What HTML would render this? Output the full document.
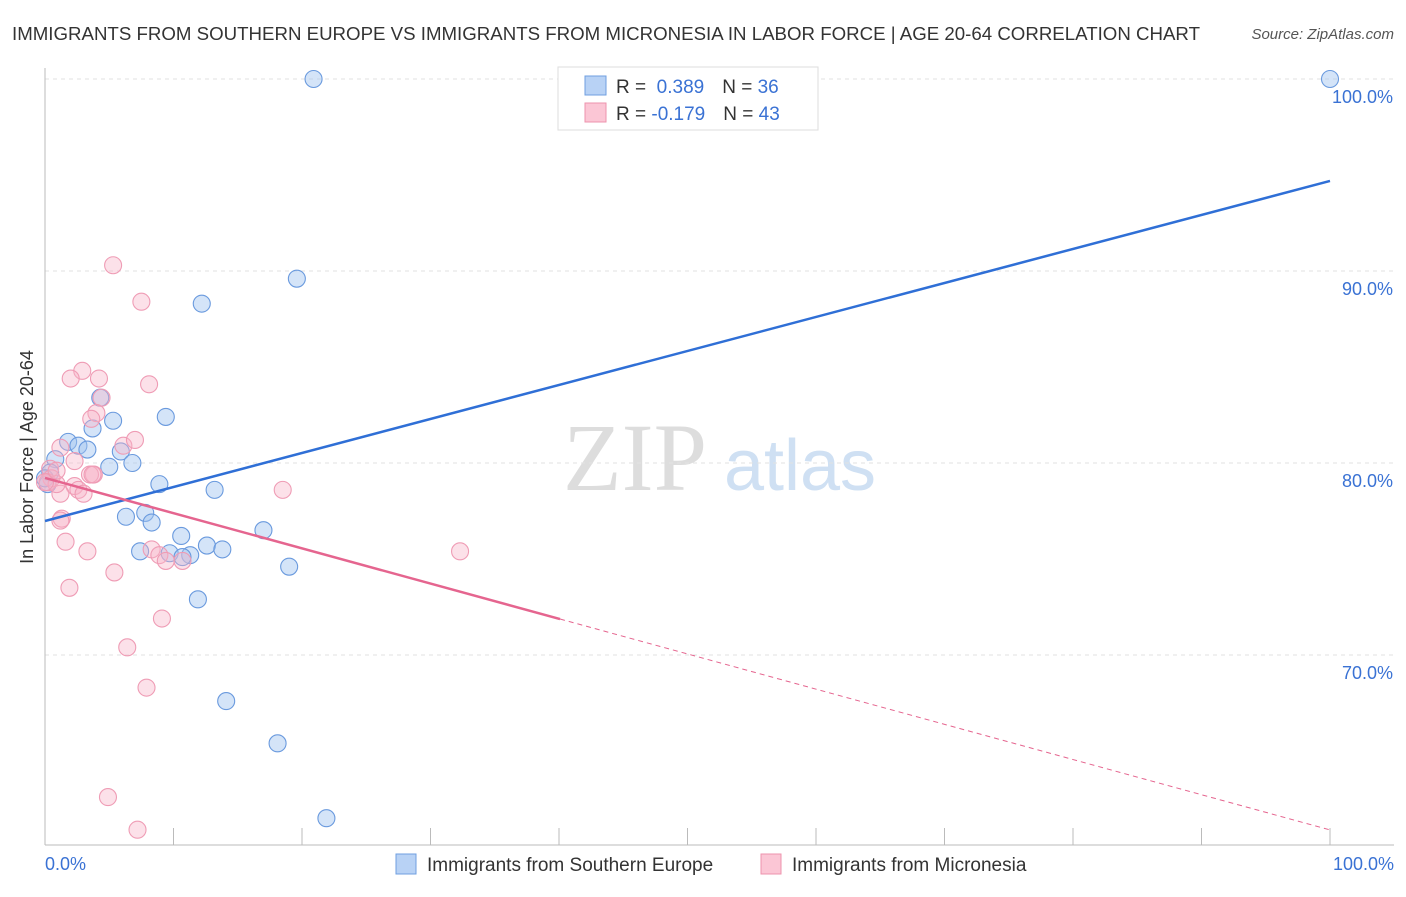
<!DOCTYPE html>
<html><head><meta charset="utf-8"><style>
body{margin:0;background:#fff;font-family:"Liberation Sans",sans-serif;}
</style></head><body>
<svg id="chart" width="1406" height="892" xmlns="http://www.w3.org/2000/svg">
<text x="12" y="40" font-size="18" fill="#333" textLength="1188" lengthAdjust="spacingAndGlyphs">IMMIGRANTS FROM SOUTHERN EUROPE VS IMMIGRANTS FROM MICRONESIA IN LABOR FORCE | AGE 20-64 CORRELATION CHART</text>
<text x="1394" y="39" font-size="15" fill="#555" font-style="italic" text-anchor="end">Source: ZipAtlas.com</text>
<g><text x="635" y="490" font-size="96" font-family="Liberation Serif" fill="#ddd" text-anchor="middle">ZIP</text><text x="800" y="490" font-size="72" fill="#cfe0f3" text-anchor="middle">atlas</text></g>
<g id="grid"></g>
<line x1="45" y1="68" x2="45" y2="845" stroke="#bbb"/>
<line x1="45" y1="845" x2="1394" y2="845" stroke="#bbb"/>
<text transform="translate(33,457) rotate(-90)" font-size="18" fill="#333" text-anchor="middle">In Labor Force | Age 20-64</text>
<text x="45" y="870" font-size="18" fill="#3a72d4">0.0%</text>
<text x="1394" y="870" font-size="18" fill="#3a72d4" text-anchor="end">100.0%</text>
<g id="points"></g>
<g id="lines"></g>
<g>
<rect x="558" y="67" width="260" height="63" fill="#fff" stroke="#ddd"/>
<rect x="585" y="76" width="21" height="19" fill="#b8d2f5" stroke="#6f9fe0"/>
<rect x="585" y="103" width="21" height="19" fill="#fbc6d5" stroke="#ee93ad"/>
<text x="616" y="93" font-size="19" fill="#333">R = <tspan fill="#3a72d4">&#160;0.389</tspan><tspan dx="18">N = </tspan><tspan fill="#3a72d4">36</tspan></text>
<text x="616" y="120" font-size="19" fill="#333">R = <tspan fill="#3a72d4">-0.179</tspan><tspan dx="18">N = </tspan><tspan fill="#3a72d4">43</tspan></text>
</g>
<g>
<rect x="396" y="854" width="20" height="20" fill="#b8d2f5" stroke="#6f9fe0"/>
<text x="427" y="871" font-size="19" fill="#333">Immigrants from Southern Europe</text>
<rect x="761" y="854" width="20" height="20" fill="#fbc6d5" stroke="#ee93ad"/>
<text x="792" y="871" font-size="19" fill="#333">Immigrants from Micronesia</text>
</g>
</svg>
<script>
const yTicks=[100,90,80,70];
const xTicks=[0,10,20,30,40,50,60,70,80,90,100];
const blueX=[20.9,100,19.6,12.2,4.3,9.4,5.3,3.7,1.8,2.6,3.3,5.9,0.8,5.0,6.8,0.4,8.9,13.2,0.2,6.3,7.8,8.3,17.0,10.6,12.6,13.8,7.4,9.7,11.3,10.7,19.0,11.9,14.1,18.1,21.9,0];
const blueY=[100,100,89.6,88.3,83.4,82.4,82.2,81.8,81.1,80.9,80.7,80.6,80.2,79.8,80.0,79.5,78.9,78.6,78.9,77.2,77.4,76.9,76.5,76.2,75.7,75.5,75.4,75.3,75.2,75.1,74.6,72.9,67.6,65.4,61.5,79.2];
const pinkX=[5.3,7.5,2.9,2.0,4.2,8.1,4.4,4.0,3.6,1.2,6.1,7.0,2.3,0.4,3.8,0.5,0.2,2.3,2.6,3.0,1.2,18.5,1.3,1.6,3.3,8.3,8.9,10.7,9.4,32.3,5.4,1.9,9.1,6.4,7.9,4.9,7.2,3.5,0.9,0,1.2,3.7,0.9];
const pinkY=[90.3,88.4,84.8,84.4,84.4,84.1,83.4,82.6,82.3,80.8,80.9,81.2,80.1,79.7,79.4,79.2,79.0,78.8,78.6,78.4,78.4,78.6,77.1,75.9,75.4,75.5,75.2,74.9,74.9,75.4,74.3,73.5,71.9,70.4,68.3,62.6,60.9,79.4,78.9,79.0,77.0,79.4,79.6];
const blueLine=[0,76.98,100,94.69];
const pinkLine=[0,79.22,100,60.89];
const pinkSolidEnd=40.08;
const NS='http://www.w3.org/2000/svg';
const xs=v=>45+v*12.85, ys=v=>79+(100-v)*19.2;
function mk(tag,attrs,parent){const e=document.createElementNS(NS,tag);for(const k in attrs)e.setAttribute(k,attrs[k]);document.getElementById(parent).appendChild(e);return e;}
yTicks.forEach(t=>{
 const l=mk('line',{x1:45,x2:1394,y1:ys(t),y2:ys(t),stroke:'#e2e2e2','stroke-dasharray':'4,4'},'grid');
 
 
 const tx=mk('text',{x:1393,y:ys(t)+24,'font-size':18,fill:'#3a72d4','text-anchor':'end'},'grid');
 tx.textContent=t.toFixed(1)+'%';
 
 
});
xTicks.forEach(t=>{
 const l=mk('line',{x1:xs(t),x2:xs(t),y1:828,y2:845,stroke:'#bbb'},'grid');
 
 
});
blueX.forEach((v,i)=>{
 const c=mk('circle',{cx:xs(v),cy:ys(blueY[i]),r:8.5,fill:'rgba(160,196,240,0.45)',stroke:'#6a9ade','stroke-width':1.1},'points');
 
 
});
pinkX.forEach((v,i)=>{
 const c=mk('circle',{cx:xs(v),cy:ys(pinkY[i]),r:8.5,fill:'rgba(248,180,200,0.4)',stroke:'#ef9cb5','stroke-width':1.1},'points');
 
 
});
const bl=mk('line',{x1:xs(blueLine[0]),y1:ys(blueLine[1]),x2:xs(blueLine[2]),y2:ys(blueLine[3]),stroke:'#2f6fd6','stroke-width':2.5},'lines');


const py=x=>pinkLine[1]+(pinkLine[3]-pinkLine[1])*(x-pinkLine[0])/(pinkLine[2]-pinkLine[0]);
const pl=mk('line',{x1:xs(pinkLine[0]),y1:ys(pinkLine[1]),x2:xs(pinkSolidEnd),y2:ys(py(pinkSolidEnd)),stroke:'#e5658f','stroke-width':2.5},'lines');


const pd=mk('line',{x1:xs(pinkSolidEnd),y1:ys(py(pinkSolidEnd)),x2:xs(pinkLine[2]),y2:ys(pinkLine[3]),stroke:'#e5658f','stroke-width':1,'stroke-dasharray':'5,4'},'lines');


</script>
</body></html>
